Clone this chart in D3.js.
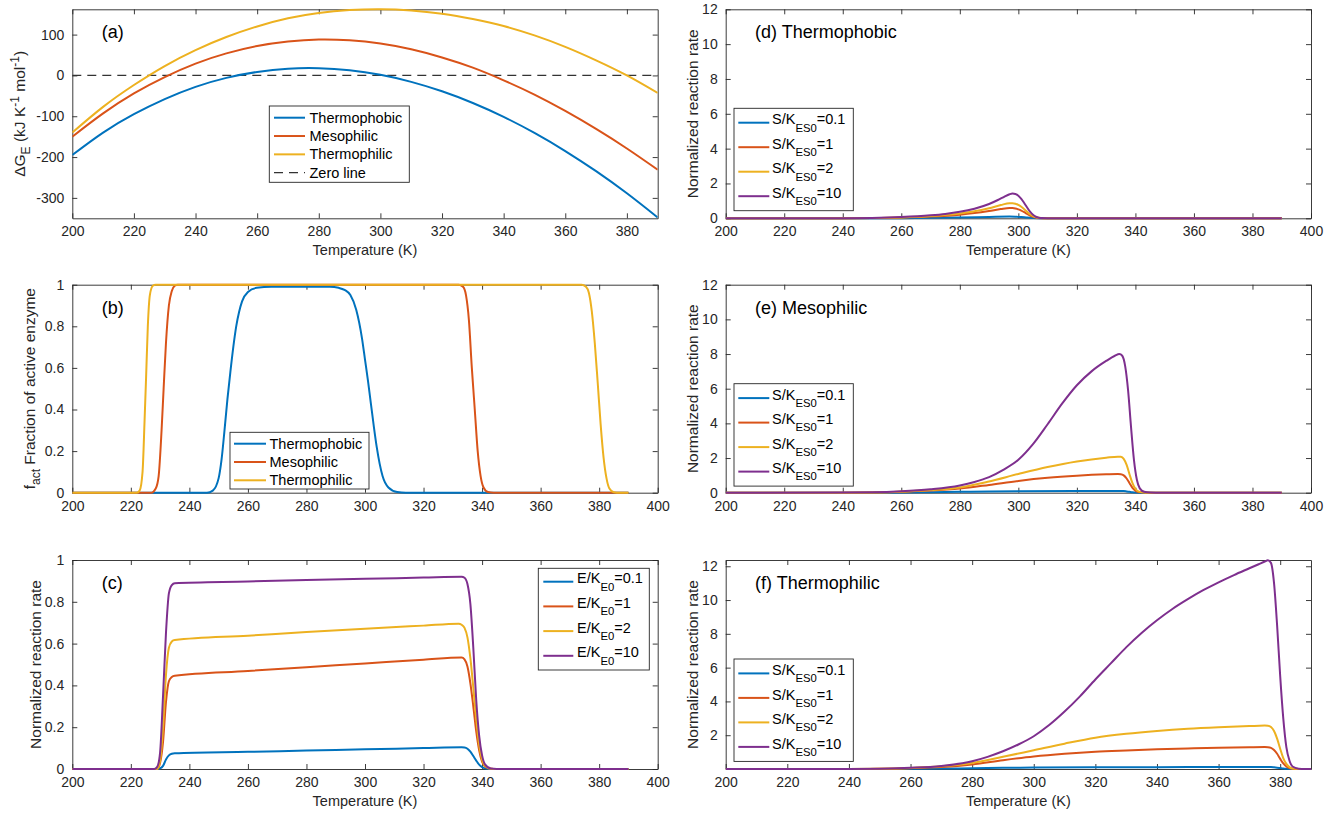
<!DOCTYPE html>
<html>
<head>
<meta charset="utf-8">
<script src="https://cdnjs.cloudflare.com/ajax/libs/d3/7.8.5/d3.min.js"></script>
<style>
  body { margin: 0; background: #fff; }
  svg { font-family: "Liberation Sans", Arial, Helvetica, sans-serif; }
</style>
</head>
<body>
<div id="chart"></div>
<script>
// ---- data ----
const tempTicks = [200, 220, 240, 260, 280, 300, 320, 340, 360, 380, 400];
const tempTicksShort = [200, 220, 240, 260, 280, 300, 320, 340, 360, 380];

// (a) free energy, kJ/mol, every 10 K
const tempA = [200, 210, 220, 230, 240, 250, 260, 270, 280, 290, 300, 310, 320, 330, 340, 350, 360, 370, 380, 390];
const dgThermophobic = [-195, -140, -95, -58, -28, -6, 8.5, 16.5, 17.7, 12.6, 1.4, -15.8, -38.9, -67.5, -101.5, -140.8, -185.2, -234.6, -288.8, -348];
const dgMesophilic = [-150, -93, -44, -4, 29, 54, 72, 83, 88, 86, 78, 64, 44, 19, -12, -47, -87, -131, -179, -231];
const dgThermophilic = [-140, -77, -23.5, 23, 62, 94, 120, 140, 153, 160, 162, 159, 151, 138, 121, 98, 70, 37, 0, -43];
const zeroLineT = [200, 390];

// (b) fraction of active enzyme, [T, f]
const fracThermophobic = [[200, 0], [246, 0], [248, 0.01], [250, 0.07], [251, 0.16], [252, 0.3], [253, 0.45], [254, 0.58], [255, 0.7], [256, 0.8], [257, 0.87], [258, 0.92], [260, 0.965], [263, 0.985], [268, 0.99], [288, 0.99], [291, 0.985], [293, 0.975], [295, 0.95], [297, 0.88], [299, 0.74], [300, 0.64], [301, 0.54], [302, 0.43], [303, 0.32], [304, 0.22], [305, 0.14], [306, 0.08], [308, 0.025], [311, 0.003], [314, 0], [390, 0]];
const fracMesophilic = [[200, 0], [227, 0], [228.5, 0.02], [229.5, 0.08], [230.5, 0.3], [231.2, 0.5], [232, 0.72], [233, 0.9], [234, 0.97], [235, 0.995], [236, 1], [332, 1], [333.5, 0.99], [334.5, 0.95], [335.5, 0.83], [336.5, 0.6], [337, 0.5], [337.5, 0.4], [338.5, 0.2], [339.5, 0.08], [340.5, 0.025], [342, 0.003], [344, 0], [390, 0]];
const fracThermophilic = [[200, 0], [222, 0], [223, 0.01], [224, 0.1], [224.7, 0.35], [225.2, 0.55], [225.8, 0.8], [226.5, 0.95], [227.5, 0.995], [228.5, 1], [374, 1], [375.5, 0.99], [376.5, 0.96], [377.5, 0.87], [378.5, 0.72], [379.5, 0.53], [380.5, 0.33], [381.5, 0.17], [382.5, 0.07], [383.5, 0.02], [385, 0.002], [386, 0], [390, 0]];

// (c) normalized rate for E/K_E0
const rateE01 = [[200, 0], [229, 0], [230, 0.003], [231, 0.015], [232, 0.045], [233, 0.065], [234, 0.073], [235, 0.075], [260, 0.082], [280, 0.088], [300, 0.094], [320, 0.1], [333, 0.104], [334, 0.103], [335, 0.097], [336, 0.083], [337, 0.062], [338, 0.04], [339, 0.021], [340, 0.009], [341, 0.003], [343, 0], [390, 0]];
const rateE1 = [[200, 0], [229, 0], [230, 0.03], [231, 0.13], [232, 0.32], [233, 0.42], [234, 0.44], [235, 0.446], [260, 0.469], [280, 0.487], [300, 0.505], [320, 0.523], [333, 0.534], [334, 0.525], [335, 0.49], [336, 0.41], [337, 0.3], [338, 0.18], [339, 0.09], [340, 0.035], [341, 0.012], [343, 0.001], [345, 0], [390, 0]];
const rateE2 = [[200, 0], [229, 0], [230, 0.04], [231, 0.2], [232, 0.45], [233, 0.58], [234, 0.61], [235, 0.617], [260, 0.638], [280, 0.655], [300, 0.671], [320, 0.686], [332, 0.695], [333, 0.69], [334, 0.675], [335, 0.63], [336, 0.53], [337, 0.39], [338, 0.24], [339, 0.115], [340, 0.045], [341, 0.015], [343, 0.001], [345, 0], [390, 0]];
const rateE10 = [[200, 0], [228, 0], [229, 0.01], [230, 0.08], [231, 0.35], [232, 0.65], [233, 0.84], [234, 0.88], [235, 0.889], [260, 0.897], [280, 0.904], [300, 0.91], [320, 0.916], [333, 0.92], [334, 0.915], [335, 0.885], [336, 0.79], [337, 0.58], [338, 0.33], [339, 0.16], [340, 0.065], [341, 0.022], [343, 0.002], [345, 0], [390, 0]];

// (d) thermophobic, S/K_ES0
const phobS01 = [[200, 0], [240, 0], [250, 0.003], [260, 0.01], [270, 0.025], [280, 0.05], [290, 0.08], [297, 0.1], [299, 0.095], [301, 0.075], [303, 0.04], [305, 0.015], [307, 0.004], [310, 0], [390, 0]];
const phobS1 = [[200, 0], [240, 0.003], [250, 0.012], [260, 0.04], [270, 0.1], [280, 0.21], [285, 0.3], [290, 0.42], [294, 0.53], [297, 0.59], [298, 0.585], [299, 0.56], [300, 0.51], [301, 0.44], [302, 0.35], [303, 0.25], [304, 0.16], [305, 0.09], [306, 0.045], [307, 0.02], [309, 0.004], [312, 0], [390, 0]];
const phobS2 = [[200, 0], [240, 0.004], [250, 0.015], [260, 0.05], [270, 0.13], [280, 0.28], [285, 0.4], [290, 0.58], [294, 0.76], [297, 0.87], [298, 0.87], [299, 0.84], [300, 0.77], [301, 0.66], [302, 0.52], [303, 0.37], [304, 0.23], [305, 0.13], [306, 0.06], [307, 0.025], [309, 0.005], [312, 0], [390, 0]];
const phobS10 = [[200, 0], [240, 0.005], [250, 0.02], [260, 0.07], [270, 0.17], [275, 0.25], [280, 0.37], [285, 0.55], [290, 0.82], [293, 1.05], [295, 1.22], [297, 1.38], [298, 1.42], [299, 1.4], [300, 1.3], [301, 1.12], [302, 0.88], [303, 0.62], [304, 0.38], [305, 0.2], [306, 0.09], [307, 0.035], [308, 0.012], [310, 0.002], [312, 0], [390, 0]];

// (e) mesophilic, S/K_ES0
const mesoS01 = [[200, 0], [240, 0], [250, 0.003], [260, 0.01], [270, 0.03], [280, 0.05], [290, 0.07], [300, 0.085], [320, 0.1], [334, 0.105], [336, 0.095], [337, 0.075], [338, 0.05], [339, 0.026], [340, 0.01], [342, 0.002], [344, 0], [390, 0]];
const mesoS1 = [[200, 0], [240, 0.003], [250, 0.012], [260, 0.05], [270, 0.12], [280, 0.24], [290, 0.45], [300, 0.68], [310, 0.86], [320, 0.98], [330, 1.06], [334, 1.08], [335, 1.07], [336, 1.0], [337, 0.82], [338, 0.55], [339, 0.28], [340, 0.12], [341, 0.04], [343, 0.008], [345, 0], [390, 0]];
const mesoS2 = [[200, 0], [240, 0.004], [250, 0.015], [260, 0.06], [270, 0.15], [280, 0.3], [290, 0.65], [300, 1.08], [310, 1.48], [320, 1.8], [330, 2.02], [334, 2.08], [335, 2.07], [336, 1.95], [337, 1.6], [338, 1.05], [339, 0.55], [340, 0.23], [341, 0.08], [343, 0.015], [345, 0], [390, 0]];
const mesoS10 = [[200, 0], [240, 0.005], [250, 0.02], [260, 0.08], [270, 0.2], [280, 0.42], [285, 0.62], [290, 0.9], [295, 1.33], [300, 1.9], [305, 2.8], [310, 3.95], [315, 5.15], [320, 6.2], [325, 7.0], [330, 7.6], [333, 7.9], [334.5, 8.0], [335.5, 7.9], [336.5, 7.3], [337.5, 5.9], [338.5, 3.8], [339.5, 1.9], [340.5, 0.75], [341.5, 0.25], [343, 0.05], [345, 0.005], [347, 0], [390, 0]];

// (f) thermophilic, S/K_ES0
const philS01 = [[200, 0], [240, 0], [250, 0.003], [260, 0.01], [270, 0.025], [280, 0.045], [290, 0.07], [300, 0.085], [320, 0.1], [340, 0.11], [360, 0.118], [375, 0.12], [377, 0.115], [378, 0.1], [379, 0.08], [380, 0.055], [381, 0.03], [382, 0.014], [383, 0.005], [385, 0], [390, 0]];
const philS1 = [[200, 0], [240, 0.003], [250, 0.012], [260, 0.05], [270, 0.12], [280, 0.27], [290, 0.52], [300, 0.74], [310, 0.9], [320, 1.02], [330, 1.1], [340, 1.17], [350, 1.22], [360, 1.26], [370, 1.29], [375, 1.3], [376, 1.29], [377, 1.25], [378, 1.12], [379, 0.9], [380, 0.6], [381, 0.33], [382, 0.15], [383, 0.055], [384, 0.018], [386, 0.002], [388, 0], [390, 0]];
const philS2 = [[200, 0], [240, 0.004], [250, 0.015], [260, 0.06], [270, 0.16], [280, 0.36], [290, 0.72], [300, 1.11], [310, 1.5], [320, 1.85], [330, 2.08], [340, 2.25], [350, 2.38], [360, 2.47], [370, 2.54], [375, 2.57], [376, 2.56], [377, 2.48], [378, 2.25], [379, 1.8], [380, 1.2], [381, 0.65], [382, 0.3], [383, 0.11], [384, 0.035], [386, 0.005], [388, 0], [390, 0]];
const philS10 = [[200, 0], [240, 0.005], [250, 0.02], [260, 0.07], [270, 0.18], [280, 0.46], [285, 0.72], [290, 1.05], [295, 1.45], [300, 1.94], [305, 2.6], [310, 3.4], [315, 4.3], [320, 5.3], [325, 6.25], [330, 7.2], [335, 8.05], [340, 8.8], [345, 9.47], [350, 10.05], [355, 10.58], [360, 11.05], [365, 11.48], [370, 11.88], [373, 12.12], [375, 12.28], [376, 12.35], [377, 12.2], [378, 11.0], [379, 8.5], [380, 5.5], [381, 3.0], [382, 1.3], [383, 0.5], [384, 0.15], [386, 0.02], [388, 0], [390, 0]];

const typeLabels = ['Thermophobic', 'Mesophilic', 'Thermophilic'];
const enzymeLabels = ['E/K_{E0}=0.1', 'E/K_{E0}=1', 'E/K_{E0}=2', 'E/K_{E0}=10'];
const substrateLabels = ['S/K_{ES0}=0.1', 'S/K_{ES0}=1', 'S/K_{ES0}=2', 'S/K_{ES0}=10'];

const colors = ['#0072BD', '#D95319', '#EDB120', '#7E2F8E'];
const ink = '#262626';

// ---- drawing ----
const svg = d3.select('#chart').append('svg')
  .attr('width', 1335)
  .attr('height', 814);

// text with _{sub} and ^{sup} pieces
function richText(text, str, size, subShift) {
  const parts = str.split(/([_^]\{[^}]*\})/).filter(s => s !== '');
  let offset = 0;
  parts.forEach(p => {
    let shift = 0, content = p, small = false;
    if (p[0] === '_') { shift = subShift * size; content = p.slice(2, -1); small = true; }
    if (p[0] === '^') { shift = -0.4 * size; content = p.slice(2, -1); small = true; }
    const span = text.append('tspan').attr('dy', shift - offset).text(content);
    if (small) span.attr('font-size', size * 0.78);
    offset = shift;
  });
}

function styleAxis(g) {
  g.attr('color', ink).attr('font-family', null).attr('font-size', 14);
  g.select('.domain').attr('stroke-width', 0.9);
  g.selectAll('.tick line').attr('stroke-width', 0.9);
  g.selectAll('.tick text').attr('fill', ink);
}

function drawPanel(p) {
  const x = d3.scaleLinear().domain(p.xDomain).range([p.left, p.right]);
  const y = d3.scaleLinear().domain(p.yDomain).range([p.bottom, p.top]);
  const g = svg.append('g');

  g.append('clipPath').attr('id', 'clip-' + p.id)
    .append('rect')
    .attr('x', p.left).attr('y', p.top - 2)
    .attr('width', p.right - p.left).attr('height', p.bottom - p.top + 4);

  const fmt = d => String(d);
  g.append('g').attr('transform', `translate(0,${p.bottom})`)
    .call(d3.axisBottom(x).tickValues(p.xTicks).tickSizeInner(-5).tickSizeOuter(0).tickPadding(8).tickFormat(fmt))
    .call(styleAxis);
  g.append('g').attr('transform', `translate(0,${p.top})`)
    .call(d3.axisTop(x).tickValues(p.xTicks).tickSizeInner(-5).tickSizeOuter(0).tickFormat(''))
    .call(styleAxis);
  g.append('g').attr('transform', `translate(${p.left},0)`)
    .call(d3.axisLeft(y).tickValues(p.yTicks).tickSizeInner(-5).tickSizeOuter(0).tickPadding(8).tickFormat(fmt))
    .call(styleAxis);
  g.append('g').attr('transform', `translate(${p.right},0)`)
    .call(d3.axisRight(y).tickValues(p.yTicks).tickSizeInner(-5).tickSizeOuter(0).tickFormat(''))
    .call(styleAxis);

  const line = d3.line().x(d => x(d[0])).y(d => y(d[1])).curve(p.curve || d3.curveMonotoneX);
  const plot = g.append('g').attr('clip-path', `url(#clip-${p.id})`);

  if (p.zeroLine) {
    plot.append('path')
      .attr('d', d3.line().x(d => x(d[0])).y(d => y(d[1]))(p.zeroLine))
      .attr('fill', 'none').attr('stroke', '#333').attr('stroke-width', 1.2)
      .attr('stroke-dasharray', '9,6');
  }
  p.series.forEach((s, i) => {
    plot.append('path')
      .attr('d', line(s))
      .attr('fill', 'none')
      .attr('stroke', colors[i])
      .attr('stroke-width', 2)
      .attr('stroke-linejoin', 'round');
  });

  // panel title
  g.append('text')
    .attr('x', p.left + 29.4).attr('y', p.top + 29)
    .attr('font-size', 18).attr('fill', '#000')
    .text(p.title);

  // axis labels
  if (p.xLabel) {
    g.append('text')
      .attr('x', (p.left + p.right) / 2).attr('y', p.bottom + 37)
      .attr('text-anchor', 'middle').attr('font-size', 14.5).attr('fill', ink)
      .text('Temperature (K)');
  }
  const yl = g.append('text')
    .attr('transform', `translate(${p.yLabelX},${p.yLabelY}) rotate(-90)`)
    .attr('text-anchor', 'middle').attr('font-size', 15.5).attr('fill', ink);
  richText(yl, p.yLabel, 15.5, 0.3);

  // legend
  const lg = p.legend;
  g.append('rect')
    .attr('x', lg.x).attr('y', lg.y).attr('width', lg.w).attr('height', lg.h)
    .attr('fill', '#fff').attr('stroke', ink).attr('stroke-width', 0.9);
  lg.labels.forEach((lab, i) => {
    const cy = lg.first + i * lg.step;
    const dashed = p.zeroLine && i === lg.labels.length - 1;
    g.append('line')
      .attr('x1', lg.x0).attr('x2', lg.x1).attr('y1', cy).attr('y2', cy)
      .attr('stroke', dashed ? '#333' : colors[i])
      .attr('stroke-width', dashed ? 1.2 : 2)
      .attr('stroke-dasharray', dashed ? '9,6' : null);
    const hasSub = lab.indexOf('_{') >= 0;
    const t = g.append('text')
      .attr('x', lg.tx).attr('y', cy + (hasSub ? 1.6 : 5))
      .attr('font-size', 14.5).attr('fill', '#000');
    richText(t, lab, 14.5, 0.5);
  });
}

const col1 = { left: 72.3, right: 657.7 };
const col2 = { left: 725.7, right: 1311 };
const rows = [{ top: 9.3, bottom: 218.3 }, { top: 284.7, bottom: 492.7 }, { top: 560, bottom: 769 }];

function rateLegend(row) {
  const dy = rows[row].top - rows[0].top;
  return { x: 734, y: 108.3 + dy, w: 119.3, h: 102.4, x0: 738.3, x1: 769.3, tx: 772,
    first: 122.7 + dy, step: 24.5, labels: substrateLabels };
}

drawPanel({
  id: 'a', ...col1, ...rows[0], title: '(a)', xLabel: true,
  xDomain: [200, 390], xTicks: tempTicksShort,
  yDomain: [-350, 162], yTicks: [-300, -200, -100, 0, 100],
  yLabel: 'ΔG_{E} (kJ K^{-1} mol^{-1})', yLabelX: 25, yLabelY: 113.8,
  curve: d3.curveNatural,
  series: [dgThermophobic, dgMesophilic, dgThermophilic].map(v => v.map((d, i) => [tempA[i], d])),
  zeroLine: zeroLineT.map(t => [t, 0]),
  legend: { x: 269.3, y: 106, w: 140, h: 76.3, x0: 274, x1: 305, tx: 309.5,
    first: 117.7, step: 18.33, labels: typeLabels.concat(['Zero line']) }
});

drawPanel({
  id: 'b', ...col1, ...rows[1], title: '(b)', xLabel: false,
  xDomain: [200, 400], xTicks: tempTicks,
  yDomain: [0, 1], yTicks: [0, 0.2, 0.4, 0.6, 0.8, 1],
  yLabel: 'f_{act} Fraction of active enzyme', yLabelX: 35, yLabelY: 388.7,
  series: [fracThermophobic, fracMesophilic, fracThermophilic],
  legend: { x: 230, y: 432.3, w: 139, h: 56.7, x0: 234, x1: 266, tx: 269.5,
    first: 443.7, step: 18.3, labels: typeLabels }
});

drawPanel({
  id: 'c', ...col1, ...rows[2], title: '(c)', xLabel: true,
  xDomain: [200, 400], xTicks: tempTicks,
  yDomain: [0, 1], yTicks: [0, 0.2, 0.4, 0.6, 0.8, 1],
  yLabel: 'Normalized reaction rate', yLabelX: 40.5, yLabelY: 664.5,
  series: [rateE01, rateE1, rateE2, rateE10],
  legend: { x: 538.3, y: 568.3, w: 111, h: 101.7, x0: 543.3, x1: 573.3, tx: 577,
    first: 581.7, step: 24.7, labels: enzymeLabels }
});

drawPanel({
  id: 'd', ...col2, ...rows[0], title: '(d) Thermophobic', xLabel: true,
  xDomain: [200, 400], xTicks: tempTicks,
  yDomain: [0, 12], yTicks: [0, 2, 4, 6, 8, 10, 12],
  yLabel: 'Normalized reaction rate', yLabelX: 697.5, yLabelY: 113.8,
  series: [phobS01, phobS1, phobS2, phobS10],
  legend: rateLegend(0)
});

drawPanel({
  id: 'e', ...col2, ...rows[1], title: '(e) Mesophilic', xLabel: false,
  xDomain: [200, 400], xTicks: tempTicks,
  yDomain: [0, 12], yTicks: [0, 2, 4, 6, 8, 10, 12],
  yLabel: 'Normalized reaction rate', yLabelX: 697.5, yLabelY: 388.7,
  series: [mesoS01, mesoS1, mesoS2, mesoS10],
  legend: rateLegend(1)
});

drawPanel({
  id: 'f', ...col2, ...rows[2], title: '(f) Thermophilic', xLabel: true,
  xDomain: [200, 390], xTicks: tempTicksShort,
  yDomain: [0, 12.37], yTicks: [2, 4, 6, 8, 10, 12],
  yLabel: 'Normalized reaction rate', yLabelX: 697.5, yLabelY: 664.5,
  series: [philS01, philS1, philS2, philS10],
  legend: rateLegend(2)
});
</script>
</body>
</html>
